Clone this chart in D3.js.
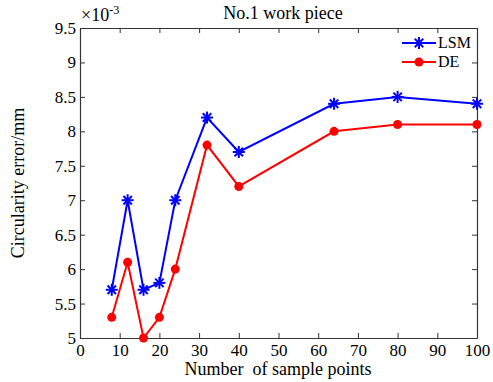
<!DOCTYPE html>
<html>
<head>
<meta charset="utf-8">
<script src="https://cdn.jsdelivr.net/npm/d3@7"></script>
<style>
body { margin: 0; background: #fff; }
text { font-family: "Liberation Serif", "Times New Roman", serif; fill: #000; }
</style>
</head>
<body>
<div id="chart-area"></div>
<script>
// data (y in units of 1e-3 mm)
var samplePoints = [8, 12, 16, 20, 24, 32, 40, 64, 80, 100]
var lsmValues = [5.7, 7.0, 5.7, 5.8, 7.0, 8.2, 7.7, 8.4, 8.5, 8.4]
var deValues = [5.3, 6.1, 5.0, 5.3, 6.0, 7.8, 7.2, 8.0, 8.1, 8.1]
var xTicks = [0, 10, 20, 30, 40, 50, 60, 70, 80, 90, 100]
var yTicks = [5, 5.5, 6, 6.5, 7, 7.5, 8, 8.5, 9, 9.5]
var seriesNames = ["LSM", "DE"]

var margin = { top: 28, bottom: 44, left: 80, right: 16 }
var width = 493 - margin.left - margin.right
var height = 382 - margin.top - margin.bottom

var svg = d3.select("#chart-area")
  .append("svg")
  .attr("width", 493)
  .attr("height", 382)

var g = svg.append("g")
  .attr("transform", "translate(" + margin.left + "," + margin.top + ")")

var x = d3.scaleLinear().domain([0, 100]).range([0, width])
var y = d3.scaleLinear().domain([5, 9.5]).range([height, 0])

// axes, MATLAB style: ticks inward, box all around
var fmt = d => String(d)
g.append("g")
  .attr("class", "axis")
  .attr("transform", "translate(0," + height + ")")
  .call(d3.axisBottom(x).tickValues(xTicks).tickFormat(fmt).tickSizeInner(-5).tickSizeOuter(0).tickPadding(6))
g.append("g")
  .attr("class", "axis")
  .call(d3.axisTop(x).tickValues(xTicks).tickFormat("").tickSizeInner(-5).tickSizeOuter(0))
g.append("g")
  .attr("class", "axis")
  .call(d3.axisLeft(y).tickValues(yTicks).tickFormat(fmt).tickSizeInner(-5).tickSizeOuter(0).tickPadding(4))
g.append("g")
  .attr("class", "axis")
  .attr("transform", "translate(" + width + ",0)")
  .call(d3.axisRight(y).tickValues(yTicks).tickFormat("").tickSizeInner(-5).tickSizeOuter(0))

g.selectAll(".axis")
  .attr("font-family", "Liberation Serif")
  .attr("font-size", 17)
g.selectAll(".domain").attr("stroke", "#333").attr("stroke-width", 1.2)
g.selectAll(".tick line").attr("stroke", "#333")
g.selectAll(".tick text").attr("fill", "#000")

// labels
svg.append("text")
  .text("No.1 work piece")
  .attr("x", 283).attr("y", 19)
  .attr("text-anchor", "middle")
  .attr("font-size", "18px")

var exp = svg.append("text")
  .attr("x", 81).attr("y", 21)
  .attr("font-size", "18px")
exp.append("tspan").text("\u00d710")
exp.append("tspan").text("-3").attr("font-size", "12px").attr("dy", -7)

svg.append("text")
  .text("Number  of sample points")
  .attr("x", 278).attr("y", 375)
  .attr("text-anchor", "middle")
  .attr("font-size", "18px")
  .style("white-space", "pre")

svg.append("text")
  .text("Circularity error/mm")
  .attr("transform", "translate(24," + (margin.top + height / 2) + ") rotate(-90)")
  .attr("text-anchor", "middle")
  .attr("font-size", "18px")

// series
var series = [
  { name: seriesNames[0], values: lsmValues, color: "#0000ff", marker: "star" },
  { name: seriesNames[1], values: deValues, color: "#ff0000", marker: "dot" }
]

var line = d3.line()
  .x(d => x(d[0]))
  .y(d => y(d[1]))

function drawMarker(sel, type, color) {
  if (type === "dot") {
    sel.append("circle").attr("r", 4.5).attr("fill", color)
  } else {
    var r = 6
    for (var a = 0; a < 4; a++) {
      var ang = a * Math.PI / 4
      sel.append("line")
        .attr("x1", -r * Math.cos(ang)).attr("y1", -r * Math.sin(ang))
        .attr("x2", r * Math.cos(ang)).attr("y2", r * Math.sin(ang))
        .attr("stroke", color).attr("stroke-width", 2)
    }
  }
}

series.forEach(function(s) {
  var pts = samplePoints.map((p, i) => [p, s.values[i]])
  g.append("path")
    .datum(pts)
    .attr("d", line)
    .attr("fill", "none")
    .attr("stroke", s.color)
    .attr("stroke-width", 2)
  pts.forEach(function(p) {
    var m = g.append("g").attr("transform", "translate(" + x(p[0]) + "," + y(p[1]) + ")")
    drawMarker(m, s.marker, s.color)
  })
})

// legend
var legend = svg.append("g").attr("transform", "translate(402,43)")
series.forEach(function(s, i) {
  var row = legend.append("g").attr("transform", "translate(0," + (i * 19) + ")")
  row.append("line")
    .attr("x1", 0).attr("x2", 34)
    .attr("stroke", s.color).attr("stroke-width", 2)
  var m = row.append("g").attr("transform", "translate(17,0)")
  drawMarker(m, s.marker, s.color)
  row.append("text")
    .text(s.name)
    .attr("x", 36).attr("y", 5)
    .attr("font-size", "16px")
})
</script>
</body>
</html>
